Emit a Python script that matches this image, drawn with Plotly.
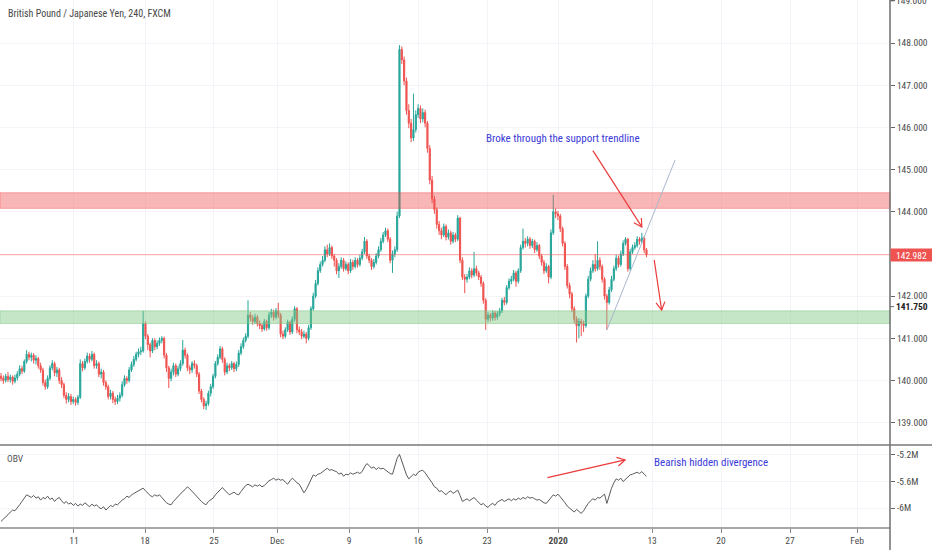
import math
import plotly.graph_objects as go

# ---------------- data ----------------
title_text = "British Pound / Japanese Yen, 240, FXCM"

open_ = [
    140.10,140.05,140.00,140.10,140.02,140.08,139.98,140.06,140.15,140.28,
    140.22,140.45,140.62,140.55,140.60,140.48,140.52,140.35,140.25,139.95,
    139.85,140.05,140.30,140.40,140.18,140.25,140.00,139.90,139.65,139.55,
    139.62,139.50,139.55,139.48,139.60,140.40,140.30,140.45,140.58,140.50,
    140.62,140.35,140.40,140.15,140.20,139.95,139.85,139.62,139.70,139.55,
    139.50,139.58,139.65,139.90,140.05,140.00,140.25,140.38,140.50,140.62,
    140.68,140.70,141.35,141.05,140.85,140.70,140.95,140.80,140.88,140.95,
    141.00,140.60,140.30,140.05,140.20,140.35,140.15,140.28,140.40,140.72,
    140.60,140.30,140.25,140.40,140.35,140.15,139.75,139.55,139.40,139.45,
    139.70,139.85,140.10,140.40,140.55,140.75,140.50,140.20,140.35,140.30,
    140.40,140.28,140.38,140.65,140.80,140.95,141.05,141.55,141.48,141.40,
    141.50,141.35,141.30,141.22,141.40,141.25,141.55,141.62,141.50,141.65,
    141.55,141.10,141.05,141.20,141.38,141.15,141.45,141.70,141.20,141.15,
    141.05,141.10,141.00,141.25,141.70,142.00,142.30,142.60,142.75,142.85,
    143.10,143.00,143.15,142.95,142.85,142.60,142.70,142.85,142.65,142.75,
    142.60,142.80,142.70,142.85,142.75,142.90,143.05,143.30,142.95,142.85,
    142.70,142.80,142.95,143.10,143.30,143.45,143.55,143.35,142.85,143.00,
    143.10,143.90,147.85,147.60,147.10,146.40,146.10,145.75,145.95,146.30,
    146.45,146.20,146.35,146.10,145.50,144.75,144.30,144.05,143.70,143.55,
    143.45,143.65,143.40,143.50,143.30,143.45,143.35,143.85,142.85,142.45,
    142.40,142.45,142.60,142.50,142.65,142.55,142.45,142.30,141.90,141.45,
    141.55,141.48,141.60,141.50,141.58,141.65,141.90,141.85,142.20,142.35,
    142.40,142.55,142.35,142.60,143.15,143.30,143.25,143.35,143.20,143.30,
    143.10,143.20,142.95,142.80,142.60,142.70,142.45,143.50,144.00,143.95,
    143.90,143.60,143.25,142.70,142.25,142.05,141.70,141.45,141.30,141.40,
    141.35,141.30,142.00,142.40,142.60,142.75,142.65,142.85,142.70,142.40,
    142.00,141.85,142.15,142.40,142.65,142.90,142.75,143.00,143.25,143.35,
    142.65,143.05,143.15,143.20,143.35,143.30,143.38,143.10,
]

high = [
    140.18,140.12,140.16,140.20,140.14,140.12,140.14,140.22,140.36,140.35,
    140.50,140.72,140.68,140.66,140.65,140.60,140.56,140.42,140.30,140.02,
    140.12,140.36,140.48,140.45,140.32,140.30,140.08,139.95,139.72,139.70,
    139.68,139.62,139.60,139.66,140.50,140.46,140.52,140.66,140.64,140.70,
    140.66,140.48,140.45,140.28,140.25,140.00,139.90,139.78,139.75,139.62,
    139.66,139.72,139.98,140.12,140.10,140.32,140.45,140.58,140.68,140.76,
    140.80,141.65,141.40,141.10,140.90,141.00,141.00,140.95,141.02,141.05,
    141.04,140.65,140.35,140.28,140.42,140.40,140.35,140.48,140.96,140.78,
    140.64,140.36,140.46,140.48,140.40,140.20,139.80,139.60,139.52,139.76,
    139.92,140.16,140.46,140.62,140.82,140.80,140.55,140.42,140.40,140.46,
    140.44,140.45,140.72,140.88,141.02,141.12,141.90,141.62,141.55,141.58,
    141.55,141.42,141.36,141.46,141.44,141.62,141.70,141.68,141.72,141.84,
    141.60,141.18,141.26,141.44,141.42,141.52,141.76,141.74,141.28,141.22,
    141.18,141.15,141.32,141.76,142.08,142.38,142.68,142.82,142.95,143.18,
    143.22,143.25,143.20,143.00,142.90,142.78,142.92,142.90,142.82,142.80,
    142.88,142.86,142.92,142.90,142.98,143.12,143.40,143.35,143.00,142.90,
    142.88,143.02,143.18,143.38,143.52,143.62,143.60,143.40,143.08,143.18,
    144.00,147.95,147.92,147.68,147.18,146.55,146.20,146.80,146.40,146.55,
    146.52,146.45,146.42,146.15,145.58,144.85,144.38,144.10,143.78,143.62,
    143.72,143.70,143.58,143.55,143.52,143.50,143.92,143.88,142.92,142.52,
    142.52,142.68,142.66,143.05,142.72,142.60,142.50,142.35,141.95,141.62,
    141.60,141.66,141.65,141.64,141.72,141.96,141.98,142.26,142.42,142.48,
    142.62,142.60,142.66,143.22,143.60,143.38,143.42,143.40,143.36,143.34,
    143.28,143.24,143.00,142.86,142.78,142.74,143.58,144.40,144.08,144.02,
    143.95,143.65,143.30,142.76,142.32,142.10,141.76,141.52,141.48,141.46,
    141.42,142.06,142.48,142.68,142.85,143.00,143.30,142.92,142.75,142.45,
    142.05,142.22,142.48,142.72,142.98,142.96,143.08,143.32,143.40,143.38,
    143.12,143.22,143.28,143.42,143.40,143.50,143.42,143.14,
]

low = [
    139.98,139.92,139.95,139.96,139.95,139.90,139.93,140.00,140.10,140.15,
    140.18,140.40,140.48,140.45,140.40,140.38,140.28,140.18,139.88,139.78,
    139.80,140.00,140.24,140.10,140.08,139.92,139.82,139.58,139.45,139.48,
    139.42,139.44,139.40,139.42,139.56,140.22,140.25,140.40,140.42,140.45,
    140.28,140.28,140.08,140.05,139.88,139.78,139.55,139.55,139.46,139.42,
    139.44,139.50,139.60,139.85,139.92,139.95,140.20,140.32,140.45,140.55,
    140.60,140.66,140.98,140.72,140.55,140.65,140.72,140.74,140.82,140.88,
    140.52,140.20,139.82,139.98,140.12,140.08,140.10,140.22,140.35,140.52,
    140.22,140.15,140.18,140.28,140.08,139.68,139.48,139.32,139.30,139.40,
    139.62,139.80,140.05,140.35,140.50,140.42,140.12,140.15,140.22,140.25,
    140.20,140.22,140.32,140.60,140.75,140.90,141.00,141.40,141.32,141.34,
    141.28,141.22,141.15,141.18,141.18,141.20,141.48,141.42,141.45,141.48,
    141.02,140.98,141.00,141.15,141.08,141.10,141.40,141.12,141.08,140.98,
    141.00,140.88,140.95,141.20,141.65,141.95,142.25,142.55,142.70,142.80,
    142.92,142.95,142.88,142.70,142.52,142.43,142.65,142.58,142.60,142.52,
    142.55,142.62,142.65,142.68,142.70,142.85,143.00,142.88,142.78,142.62,
    142.65,142.75,142.90,143.05,143.25,143.40,143.28,142.78,142.55,142.92,
    143.05,143.85,147.50,147.00,146.30,145.98,145.65,145.68,145.88,146.22,
    146.10,146.12,146.00,145.40,144.65,144.20,143.95,143.60,143.45,143.35,
    143.40,143.32,143.34,143.22,143.25,143.28,143.30,142.78,142.38,142.07,
    142.32,142.40,142.42,142.45,142.48,142.38,142.22,141.82,141.20,141.38,
    141.40,141.42,141.42,141.44,141.52,141.60,141.78,141.80,142.15,142.28,
    142.35,142.22,142.30,142.55,143.10,143.15,143.18,143.12,143.14,143.02,
    143.05,142.88,142.72,142.52,142.55,142.30,142.40,143.45,143.85,143.80,
    143.52,143.18,142.62,142.18,141.95,141.62,141.35,140.90,141.00,141.05,
    141.15,141.25,141.95,142.35,142.55,142.58,142.60,142.62,142.32,141.92,
    141.20,141.80,142.10,142.35,142.60,142.68,142.70,142.95,143.20,142.58,
    142.60,143.00,143.10,143.15,143.22,143.25,143.02,142.92,
]

close = [
    140.05,140.00,140.10,140.02,140.08,139.98,140.06,140.15,140.28,140.22,
    140.45,140.62,140.55,140.60,140.48,140.52,140.35,140.25,139.95,139.85,
    140.05,140.30,140.40,140.18,140.25,140.00,139.90,139.65,139.55,139.62,
    139.50,139.55,139.48,139.60,140.40,140.30,140.45,140.58,140.50,140.62,
    140.35,140.40,140.15,140.20,139.95,139.85,139.62,139.70,139.55,139.50,
    139.58,139.65,139.90,140.05,140.00,140.25,140.38,140.50,140.62,140.68,
    140.70,141.35,141.05,140.85,140.70,140.95,140.80,140.88,140.95,141.00,
    140.60,140.30,140.05,140.20,140.35,140.15,140.28,140.40,140.72,140.60,
    140.30,140.25,140.40,140.35,140.15,139.75,139.55,139.40,139.45,139.70,
    139.85,140.10,140.40,140.55,140.75,140.50,140.20,140.35,140.30,140.40,
    140.28,140.38,140.65,140.80,140.95,141.05,141.55,141.48,141.40,141.50,
    141.35,141.30,141.22,141.40,141.25,141.55,141.62,141.50,141.65,141.55,
    141.10,141.05,141.20,141.38,141.15,141.45,141.70,141.20,141.15,141.05,
    141.10,141.00,141.25,141.70,142.00,142.30,142.60,142.75,142.85,143.10,
    143.00,143.15,142.95,142.85,142.60,142.70,142.85,142.65,142.75,142.60,
    142.80,142.70,142.85,142.75,142.90,143.05,143.30,142.95,142.85,142.70,
    142.80,142.95,143.10,143.30,143.45,143.55,143.35,142.85,143.00,143.10,
    143.90,147.85,147.60,147.10,146.40,146.10,145.75,145.95,146.30,146.45,
    146.20,146.35,146.10,145.50,144.75,144.30,144.05,143.70,143.55,143.45,
    143.65,143.40,143.50,143.30,143.45,143.35,143.85,142.85,142.45,142.40,
    142.45,142.60,142.50,142.65,142.55,142.45,142.30,141.90,141.45,141.55,
    141.48,141.60,141.50,141.58,141.65,141.90,141.85,142.20,142.35,142.40,
    142.55,142.35,142.60,143.15,143.30,143.25,143.35,143.20,143.30,143.10,
    143.20,142.95,142.80,142.60,142.70,142.45,143.50,144.00,143.95,143.90,
    143.60,143.25,142.70,142.25,142.05,141.70,141.45,141.30,141.40,141.35,
    141.30,142.00,142.40,142.60,142.75,142.65,142.85,142.70,142.40,142.00,
    141.85,142.15,142.40,142.65,142.90,142.75,143.00,143.25,143.35,142.65,
    143.05,143.15,143.20,143.35,143.30,143.38,143.10,142.98,
]

# On Balance Volume, in millions
obv_m = [
    -6.20,-6.17,-6.14,-6.10,-6.06,-6.03,-6.04,-6.00,-5.95,-5.90,
    -5.85,-5.80,-5.82,-5.84,-5.81,-5.85,-5.83,-5.88,-5.84,-5.86,
    -5.82,-5.87,-5.85,-5.90,-5.86,-5.84,-5.89,-5.93,-5.90,-5.94,
    -5.92,-5.96,-5.93,-5.97,-5.94,-5.96,-5.92,-5.95,-5.98,-5.94,
    -5.97,-5.95,-5.99,-6.01,-5.98,-6.03,-5.99,-5.96,-5.98,-5.94,
    -5.95,-5.91,-5.88,-5.86,-5.82,-5.84,-5.80,-5.78,-5.76,-5.73,
    -5.72,-5.70,-5.74,-5.78,-5.81,-5.83,-5.80,-5.82,-5.80,-5.84,
    -5.88,-5.92,-5.94,-5.95,-5.90,-5.86,-5.82,-5.79,-5.75,-5.72,
    -5.68,-5.71,-5.75,-5.78,-5.82,-5.86,-5.90,-5.93,-5.95,-5.90,
    -5.87,-5.85,-5.80,-5.76,-5.72,-5.69,-5.73,-5.77,-5.80,-5.78,
    -5.76,-5.79,-5.80,-5.75,-5.70,-5.66,-5.64,-5.66,-5.68,-5.65,
    -5.67,-5.65,-5.68,-5.66,-5.62,-5.59,-5.57,-5.55,-5.58,-5.56,
    -5.58,-5.57,-5.61,-5.64,-5.59,-5.55,-5.58,-5.62,-5.64,-5.70,
    -5.77,-5.72,-5.65,-5.58,-5.50,-5.52,-5.49,-5.48,-5.45,-5.42,
    -5.40,-5.43,-5.42,-5.44,-5.45,-5.49,-5.47,-5.52,-5.49,-5.50,
    -5.47,-5.49,-5.48,-5.46,-5.48,-5.45,-5.38,-5.33,-5.36,-5.40,
    -5.38,-5.42,-5.39,-5.41,-5.40,-5.43,-5.46,-5.48,-5.49,-5.35,
    -5.25,-5.19,-5.30,-5.42,-5.50,-5.56,-5.52,-5.49,-5.51,-5.46,
    -5.44,-5.43,-5.47,-5.52,-5.56,-5.62,-5.68,-5.70,-5.75,-5.74,
    -5.77,-5.80,-5.76,-5.74,-5.78,-5.75,-5.73,-5.81,-5.90,-5.88,
    -5.86,-5.89,-5.87,-5.84,-5.88,-5.92,-5.95,-5.93,-5.97,-5.99,
    -5.95,-5.93,-5.96,-5.91,-5.89,-5.87,-5.90,-5.88,-5.86,-5.89,
    -5.86,-5.88,-5.85,-5.87,-5.84,-5.86,-5.83,-5.85,-5.84,-5.86,
    -5.88,-5.87,-5.90,-5.92,-5.93,-5.89,-5.84,-5.80,-5.82,-5.79,
    -5.83,-5.87,-5.92,-5.97,-6.00,-6.03,-6.06,-6.02,-6.05,-6.08,
    -6.04,-5.98,-5.93,-5.89,-5.86,-5.88,-5.84,-5.85,-5.82,-5.79,
    -5.93,-5.80,-5.70,-5.62,-5.56,-5.58,-5.55,-5.60,-5.57,-5.53,
    -5.50,-5.49,-5.47,-5.46,-5.48,-5.45,-5.49,-5.52,
]

bar_index = list(range(len(close)))

# bottom time axis (positions in bar units) and labels
time_tick_pos = [31.3, 61.8, 91.4, 118.5, 149.4, 179.0, 208.6, 239.1, 279.4, 309.0, 338.6, 367.4]
time_tick_text = ["11", "18", "25", "Dec", "9", "16", "23", "<b>2020</b>", "13", "20", "27", "Feb"]

price_tick_vals = [139, 140, 141, 142, 144, 145, 146, 147, 148, 149]
price_tick_text = ["139.000", "140.000", "141.000", "142.000", "144.000",
                   "145.000", "146.000", "147.000", "148.000", "149.000"]
top_price_label = 149.0

obv_tick_vals = [-6.0, -5.6, -5.2]
obv_tick_text = ["-6M", "-5.6M", "-5.2M"]

resistance_zone = [144.08, 144.45]
support_zone = [141.35, 141.65]
last_price = 142.982
marked_level = 141.750

# ---------------- layout constants ----------------
W, H = 932, 550
M_L, M_R, M_T, M_B = 0, 42, 0, 22
PLOT_W = W - M_L - M_R
PLOT_H = H - M_T - M_B
OBV_PX = 83
split = OBV_PX / PLOT_H

X_RANGE = [-0.43, 381.5]
P_RANGE = [138.47, 149.02]
O_RANGE = [-6.30, -5.05]

kx = PLOT_W / (X_RANGE[1] - X_RANGE[0])
ky_p = (PLOT_H - OBV_PX) / (P_RANGE[1] - P_RANGE[0])
ky_o = OBV_PX / (O_RANGE[1] - O_RANGE[0])

UP, DOWN = "#26a69a", "#ef5350"
ARROW_RED = "#ec3a3a"
TEXT_BLUE = "#3a3ad8"
AXIS_TXT = "#4a4a4a"
GRID = "#f3f4f7"
FONT = "Liberation Sans Narrow, Roboto Condensed, Roboto, Arial, sans-serif"
TICK_SIZE = 9.5

fig = go.Figure()

fig.add_trace(go.Candlestick(
    x=bar_index, open=open_, high=high, low=low, close=close,
    increasing=dict(line=dict(color=UP, width=1), fillcolor=UP),
    decreasing=dict(line=dict(color=DOWN, width=1), fillcolor=DOWN),
    whiskerwidth=0, xaxis="x", yaxis="y", showlegend=False, hoverinfo="skip",
))

fig.add_trace(go.Scatter(
    x=bar_index, y=obv_m, mode="lines",
    line=dict(color="#5a5a5a", width=1),
    xaxis="x2", yaxis="y2", showlegend=False, hoverinfo="skip",
))

shapes = []
# zones
shapes.append(dict(type="rect", xref="paper", x0=0, x1=1, yref="y",
                   y0=resistance_zone[0], y1=resistance_zone[1],
                   fillcolor="rgba(239,83,80,0.42)", line=dict(color="rgba(239,83,80,0.45)", width=1),
                   layer="above"))
shapes.append(dict(type="rect", xref="paper", x0=0, x1=1, yref="y",
                   y0=support_zone[0], y1=support_zone[1],
                   fillcolor="rgba(129,199,132,0.45)", line=dict(color="rgba(129,199,132,0.5)", width=1),
                   layer="above"))
# last price line
shapes.append(dict(type="line", xref="paper", x0=0, x1=1, yref="y", y0=last_price, y1=last_price,
                   line=dict(color="rgba(239,83,80,0.55)", width=1), layer="above"))
# trendline
shapes.append(dict(type="line", xref="x", yref="y", x0=260, y0=141.2, x1=289.3, y1=145.23,
                   line=dict(color="#a9b7cc", width=1), layer="above"))


def arrow(x0, y0, x1, y1, xr, yr, ky, length=9.0, spread=0.52):
    out = [dict(type="line", xref=xr, yref=yr, x0=x0, y0=y0, x1=x1, y1=y1,
                line=dict(color=ARROW_RED, width=1.2), layer="above")]
    dx, dy = (x1 - x0) * kx, (y1 - y0) * ky
    n = math.hypot(dx, dy)
    ux, uy = dx / n, dy / n
    pts = []
    for s in (spread, -spread):
        c, si = math.cos(s), math.sin(s)
        bx = -(ux * c - uy * si)
        by = -(ux * si + uy * c)
        pts.append((x1 + bx * length / kx, y1 + by * length / ky))
    path = f"M{pts[0][0]},{pts[0][1]} L{x1},{y1} L{pts[1][0]},{pts[1][1]}"
    out.append(dict(type="path", xref=xr, yref=yr, path=path,
                    line=dict(color=ARROW_RED, width=1.2), layer="above"))
    return out


shapes += arrow(254.0, 145.45, 275.0, 143.64, "x", "y", ky_p)
shapes += arrow(280.3, 142.86, 283.5, 141.67, "x", "y", ky_p)
shapes += arrow(234.5, -5.54, 267.8, -5.275, "x2", "y2", ky_o)

# frame lines
shapes.append(dict(type="line", xref="paper", yref="paper", x0=0, x1=W / PLOT_W, y0=split, y1=split,
                   line=dict(color="#9a9a9a", width=2)))
shapes.append(dict(type="line", xref="paper", yref="paper", x0=0, x1=1, y0=0, y1=0,
                   line=dict(color="#8a8a8a", width=1.5)))
shapes.append(dict(type="line", xref="paper", yref="paper", x0=1, x1=1, y0=-M_B / PLOT_H, y1=1,
                   line=dict(color="#6e6e6e", width=1.5)))
# small ticks for the marked level and the clipped top label
for lvl in (marked_level, top_price_label):
    shapes.append(dict(type="line", xref="paper", yref="y", x0=1, x1=1 + 4 / PLOT_W,
                       y0=lvl, y1=lvl, line=dict(color="#666666", width=1)))

annotations = [
    dict(text=title_text, xref="paper", yref="paper", x=6 / PLOT_W, y=1 - 13 / PLOT_H,
         xanchor="left", yanchor="middle", showarrow=False,
         font=dict(family=FONT, size=10, color="#484848")),
    dict(text="OBV", xref="paper", yref="paper", x=5 / PLOT_W, y=(PLOT_H - 458) / PLOT_H,
         xanchor="left", yanchor="middle", showarrow=False,
         font=dict(family=FONT, size=9.5, color="#555555")),
    dict(text="Broke through the support trendline", xref="x", yref="y", x=241, y=145.73,
         xanchor="center", yanchor="middle", showarrow=False,
         font=dict(family=FONT, size=11, color=TEXT_BLUE)),
    dict(text="Bearish hidden divergence", xref="x2", yref="y2", x=304.7, y=-5.32,
         xanchor="center", yanchor="middle", showarrow=False,
         font=dict(family=FONT, size=11, color=TEXT_BLUE)),
    dict(text=f"{last_price:.3f}", xref="paper", yref="y", x=1, y=last_price,
         xanchor="left", yanchor="middle", showarrow=False, width=41, height=12,
         bgcolor="#ef5350", borderpad=0, align="center",
         font=dict(family=FONT, size=TICK_SIZE, color="white")),
    dict(text=f"<b>{marked_level:.3f}</b>", xref="paper", yref="y", x=1, y=marked_level,
         xanchor="left", yanchor="middle", showarrow=False, xshift=4,
         font=dict(family=FONT, size=TICK_SIZE, color="#222222")),
    dict(text=f"{top_price_label:.3f}", xref="paper", yref="y", x=1, y=top_price_label,
         xanchor="left", yanchor="middle", showarrow=False, xshift=4,
         font=dict(family=FONT, size=TICK_SIZE, color=AXIS_TXT)),
]

fig.update_layout(
    width=W, height=H,
    margin=dict(l=M_L, r=M_R, t=M_T, b=M_B, pad=0, autoexpand=False),
    paper_bgcolor="white", plot_bgcolor="white",
    showlegend=False,
    font=dict(family=FONT, color=AXIS_TXT, size=TICK_SIZE),
    xaxis=dict(domain=[0, 1], anchor="y", range=X_RANGE, rangeslider=dict(visible=False),
               tickvals=time_tick_pos, ticktext=time_tick_text, showticklabels=False,
               showgrid=True, gridcolor=GRID, zeroline=False, showline=False, ticks="",
               automargin=False),
    xaxis2=dict(domain=[0, 1], anchor="y2", range=X_RANGE, matches="x",
                tickvals=time_tick_pos, ticktext=time_tick_text, showticklabels=True,
                ticks="outside", ticklen=4, tickcolor="#888888",
                tickfont=dict(family=FONT, size=TICK_SIZE, color=AXIS_TXT),
                showgrid=True, gridcolor=GRID, zeroline=False, showline=False,
                automargin=False),
    yaxis=dict(domain=[split, 1], anchor="x", range=P_RANGE, side="right",
               tickvals=price_tick_vals, ticktext=price_tick_text,
               ticks="outside", ticklen=4, tickcolor="#666666",
               tickfont=dict(family=FONT, size=TICK_SIZE, color=AXIS_TXT),
               showgrid=True, gridcolor=GRID, zeroline=False, showline=False,
               automargin=False),
    yaxis2=dict(domain=[0, split], anchor="x2", range=O_RANGE, side="right",
                tickvals=obv_tick_vals, ticktext=obv_tick_text,
                ticks="outside", ticklen=4, tickcolor="#666666",
                tickfont=dict(family=FONT, size=TICK_SIZE, color=AXIS_TXT),
                showgrid=True, gridcolor=GRID, zeroline=False, showline=False,
                automargin=False),
    shapes=shapes,
    annotations=annotations,
)

# the page's default body margin would offset the figure by 8px; remove it
fig.write_html(
    "out.html",
    config={"displayModeBar": False},
    post_script="document.body.style.margin='0';document.body.style.overflow='hidden';",
)
